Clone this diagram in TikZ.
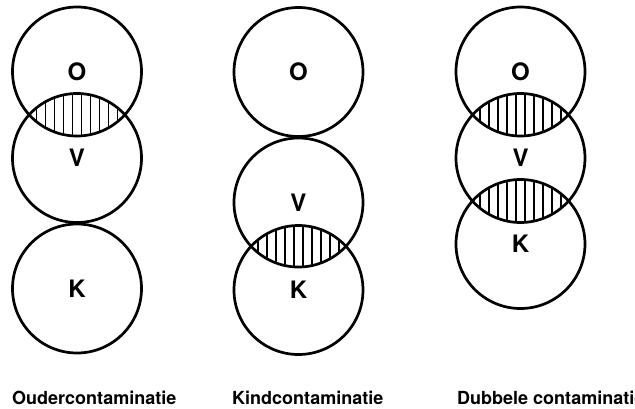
\documentclass[tikz,border=0pt]{standalone}
\usepackage{fontspec}
\setmainfont{TeX Gyre Heros}
\usetikzlibrary{calc}
\tikzset{
  ring/.style={circle, draw, line width=2.7pt, minimum size=129pt, inner sep=0pt,
               font=\fontsize{24}{28}\selectfont\bfseries},
  caption/.style={anchor=west, inner sep=0pt, font=\fontsize{18}{22}\selectfont\bfseries},
  hatch/.style={line width=1.3pt}
}
% lens hatching between two overlapping rings
\newcommand{\lenshatch}[2]{%
  \begin{scope}
    \clip (#1.center) circle[radius=64.5pt];
    \clip (#2.center) circle[radius=64.5pt];
    \foreach \dx in {-49.5,-40.5,-31.5,-22.5,-13.5,-4.5,4.5,13.5,22.5,31.5,40.5,49.5}
      \draw[hatch] ($(#1.center)!0.5!(#2.center)+(\dx,-30)$) -- ++(0,60);
  \end{scope}}
\begin{document}
\begin{tikzpicture}[x=1pt,y=-1pt]
\useasboundingbox (0,0) rectangle (635,408);
% Oudercontaminatie
\node[ring] (o1) at (77,71.5) {O};
\node[ring] (v1) at (77,158) {V};
\node[ring] (k1) at (77,288.5) {K};
\lenshatch{o1}{v1}
\node[caption] (t1) at (12,398) {Oudercontaminatie};
% Kindcontaminatie
\node[ring] (o2) at (298.5,72) {O};
\node[ring] (v2) at (298.5,202.5) {V};
\node[ring] (k2) at (298.5,290) {K};
\lenshatch{v2}{k2}
\node[caption] (t2) at (232,398) {Kindcontaminatie};
% Dubbele contaminatie
\node[ring] (o3) at (520.5,71.5) {O};
\node[ring] (v3) at (520.5,158) {V};
\node[ring] (k3) at (520.5,244) {K};
\lenshatch{o3}{v3}
\lenshatch{v3}{k3}
\node[caption] (t3) at (457,398) {Dubbele contaminatie};
\end{tikzpicture}
\end{document}
